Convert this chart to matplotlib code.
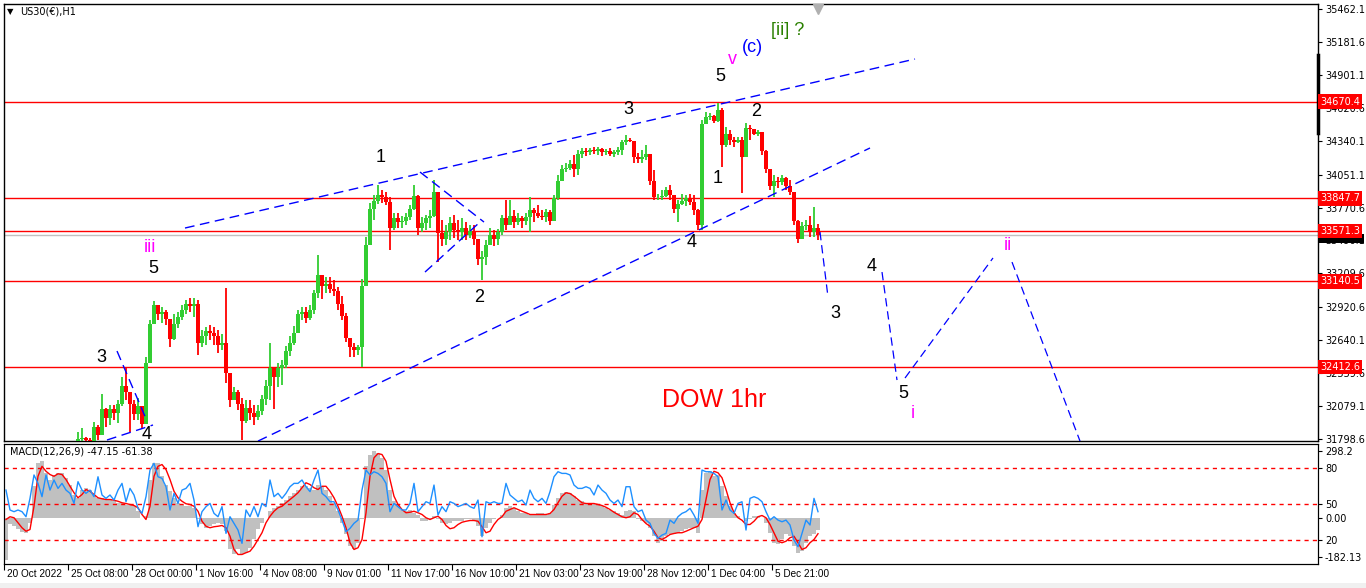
import numpy as np
import matplotlib
matplotlib.use('Agg')
import matplotlib.pyplot as plt
import matplotlib.transforms as mtransforms
from matplotlib.patches import Rectangle

plt.rcParams['lines.scale_dashes'] = False
plt.rcParams['font.family'] = ['DejaVu Sans']

# ---------------- data (4-hour aggregated bars) ----------------
close = [31380, 31400, 31360, 31350, 31380, 31360, 31460, 31560, 31650, 31620,
         31640, 31600, 31650, 31680, 31610, 31640, 31670, 31720, 31800, 31810,
         31790, 31780, 31900, 31830, 32050, 31980, 32050, 32020, 32100, 32250,
         32200, 32100, 32010, 32080, 31930, 32450, 32780, 32940, 32860, 32880,
         32820, 32650, 32780, 32840, 32900, 32950, 32930, 32950, 32620, 32680,
         32720, 32700, 32680, 32600, 32620, 32360, 32130, 32200, 32100, 31950,
         32060, 32020, 31990, 32040, 32140, 32250, 32400, 32330, 32400, 32430,
         32550, 32620, 32700, 32860, 32880, 32830, 32900, 33040, 33200, 33100,
         33120, 33080, 33060, 32950, 32850, 32660, 32580, 32560, 32580, 33100,
         33450, 33760, 33830, 33880, 33860, 33820, 33600, 33680, 33650, 33660,
         33690, 33760, 33870, 33600, 33640, 33680, 33700, 33900, 33550, 33500,
         33560, 33640, 33580, 33560, 33600, 33540, 33570, 33500, 33330, 33350,
         33450, 33540, 33500, 33560, 33680, 33620, 33700, 33650, 33680, 33660,
         33690, 33750, 33720, 33700, 33690, 33730, 33660, 33850, 34000, 34100,
         34110, 34140, 34100, 34230, 34250, 34240, 34260, 34250, 34270, 34240,
         34250, 34230, 34240, 34260, 34330, 34350, 34340, 34200, 34180, 34200,
         34230, 34000, 33860, 33860, 33870, 33920, 33880, 33760, 33800, 33830,
         33850, 33820, 33750, 33620, 34480, 34540, 34550, 34510, 34600, 34300,
         34400, 34350, 34330, 34350, 34200, 34450, 34440, 34400, 34410, 34250,
         34100, 33950, 34000, 33990, 34020, 33950, 33900, 33660, 33500, 33610,
         33620, 33560, 33600, 33535]
high = [31420, 31450, 31430, 31400, 31420, 31440, 31480, 31580, 31680, 31700,
        31690, 31700, 31680, 31720, 31700, 31680, 31700, 31740, 31860, 31892,
        31815, 31806, 31943, 31920, 32182, 32063, 32089, 32089, 32131, 32330,
        32412, 32190, 32131, 32150, 32000, 32497, 32810, 32974, 32925, 32925,
        32900, 32812, 32860, 32880, 32940, 32983, 33000, 33000, 32980, 32727,
        32752, 32770, 32752, 32727, 32690, 33085, 32260, 32240, 32216, 32150,
        32131, 32131, 32090, 32090, 32170, 32300, 32620, 32400, 32450, 32470,
        32590, 32680, 32760, 32898, 32920, 32920, 32940, 33068, 33366, 33180,
        33180, 33180, 33150, 33090, 33020, 32870, 32620, 32620, 32600, 33160,
        33520, 33810, 33880, 33962, 33920, 33900, 33860, 33720, 33720, 33700,
        33720, 33790, 33962, 33880, 33690, 33710, 33750, 34005, 33900, 33664,
        33620, 33690, 33710, 33664, 33680, 33650, 33620, 33620, 33500, 33400,
        33494, 33600, 33579, 33590, 33710, 33835, 33835, 33750, 33720, 33700,
        33720, 33860, 33770, 33790, 33750, 33760, 33750, 33880, 34050, 34130,
        34150, 34175, 34220, 34260, 34280, 34280, 34280, 34290, 34290, 34280,
        34270, 34280, 34260, 34290, 34350, 34389, 34360, 34320, 34235, 34260,
        34300, 34220, 34090, 33890, 33920, 33945, 33960, 33860, 33835, 33890,
        33880, 33890, 33880, 33760, 34516, 34585, 34580, 34560, 34661, 34620,
        34460, 34430, 34370, 34370, 34370, 34490, 34475, 34420, 34430, 34370,
        34260, 34090, 34050, 34030, 34050, 34030, 34005, 33835, 33664, 33650,
        33664, 33700, 33775, 33630]
low = [31300, 31340, 31330, 31300, 31320, 31340, 31350, 31440, 31540, 31580,
       31560, 31580, 31560, 31600, 31580, 31560, 31600, 31640, 31720, 31760,
       31720, 31720, 31760, 31790, 31875, 31900, 31920, 31960, 31935, 32080,
       32130, 31860, 31960, 31960, 31880, 31935, 32490, 32780, 32810, 32790,
       32770, 32582, 32640, 32745, 32810, 32860, 32880, 32840, 32514, 32582,
       32600, 32642, 32600, 32530, 32557, 32280, 32070, 32130, 32046, 31790,
       31935, 31960, 31918, 31960, 32000, 32090, 32131, 32050, 32240, 32260,
       32400, 32510, 32600, 32790, 32810, 32790, 32810, 32860, 33000, 32990,
       33040, 33040, 33020, 32898, 32812, 32625, 32500, 32500, 32514, 32412,
       33290, 33450, 33664, 33800, 33810, 33790, 33409, 33579, 33600, 33600,
       33620, 33664, 33750, 33537, 33560, 33580, 33600, 33690, 33306, 33440,
       33450, 33494, 33510, 33494, 33494, 33494, 33510, 33450, 33280, 33153,
       33280, 33450, 33440, 33450, 33537, 33579, 33620, 33600, 33620, 33600,
       33620, 33560, 33650, 33680, 33664, 33650, 33620, 33700, 33835, 34050,
       34070, 34090, 34030, 34050, 34190, 34210, 34220, 34230, 34220, 34210,
       34220, 34210, 34200, 34220, 34220, 34300, 34330, 34150, 34150, 34150,
       34175, 33960, 33835, 33835, 33835, 33860, 33835, 33724, 33650, 33790,
       33780, 33790, 33710, 33579, 33580, 34500, 34520, 34490, 34500, 34116,
       34290, 34300, 34290, 34320, 33895, 34260, 34350, 34390, 34380, 34220,
       34065, 33920, 33860, 33940, 33960, 33920, 33880, 33620, 33470, 33540,
       33579, 33520, 33520, 33494]
first_open = 31360

macd_main = [-165, -24, -31, -44, -55, -60, -17, 129, 223, 229,
             183, 156, 176, 183, 183, 163, 136, 96, 83, 116,
             123, 116, 96, 83, 83, 76, 76, 69, 63, 63,
             56, 56, 49, 29, 3, 9, 156, 223, 223, 169,
             136, 109, 83, 63, 56, 49, 49, 43, -4, -24,
             -37, -31, -24, -17, -24, -51, -124, -144, -124, -144,
             -137, -117, -84, -44, -17, 3, 29, 43, 49, 63,
             76, 89, 103, 116, 129, 129, 123, 116, 136, 129,
             116, 89, 63, 29, -17, -64, -111, -124, -97, -4,
             209, 256, 269, 263, 243, 196, 116, 69, 56, 36,
             29, 36, 23, 16, -11, -11, -4, 9, -4, -17,
             -24, -17, -11, -11, -11, -4, -4, -11, -31, -71,
             -37, -17, -4, 0, 16, 43, 49, 43, 29, 23,
             23, 16, 16, 23, 23, 16, 23, 56, 83, 103,
             107, 103, 89, 76, 69, 63, 63, 60, 56, 49,
             43, 36, 29, 23, 16, 29, 36, 29, -4, -11,
             -17, -37, -71, -97, -91, -71, -64, -64, -57, -51,
             -44, -37, -37, -57, 116, 183, 189, 169, 176, 129,
             89, 49, 23, 9, 3, -11, -4, 9, 12, 3,
             -17, -57, -97, -104, -84, -64, -71, -111, -137, -131,
             -97, -71, -64, -47]
macd_signal = [-4, 7, 3, -17, -37, -51, -44, 49, 169, 209,
               189, 176, 169, 179, 176, 156, 129, 103, 83, 96,
               116, 109, 96, 83, 79, 76, 76, 73, 69, 63,
               60, 56, 52, 43, 16, -4, 49, 169, 209, 216,
               196, 156, 109, 83, 69, 59, 56, 49, 29, -11,
               -31, -37, -33, -31, -28, -37, -71, -124, -144, -144,
               -137, -131, -111, -84, -57, -17, 9, 29, 43, 49,
               63, 76, 89, 103, 123, 143, 136, 123, 116, 129,
               129, 109, 83, 49, 9, -37, -97, -124, -117, -84,
               23, 169, 243, 260, 256, 229, 156, 89, 56, 36,
               23, 25, 29, 23, 16, 3, -4, 3, 9, -4,
               -28, -41, -37, -24, -15, -11, -8, -8, -11, -33,
               -57, -51, -24, -4, 7, 29, 36, 43, 36, 29,
               23, 16, 16, 16, 16, 16, 20, 36, 63, 89,
               103, 100, 89, 76, 63, 60, 60, 60, 56, 52,
               45, 36, 25, 16, 7, 3, 7, 23, 16, -4,
               -20, -31, -51, -77, -84, -75, -64, -60, -57, -57,
               -51, -44, -37, -31, -4, 76, 156, 189, 183, 163,
               116, 63, 23, 3, -7, -24, -24, -11, 7, 12,
               3, -24, -57, -91, -97, -91, -77, -71, -97, -124,
               -117, -97, -84, -61]
osc_line = [61.6, 45, 43.6, 45, 43.6, 39.4, 54.7, 74.2, 67.2, 56.1,
            74.2, 61.6, 70, 63, 67.2, 61.6, 58.9, 50.5, 68.6, 61.6,
            58.9, 61.6, 56.1, 72.7, 57.5, 54.7, 57.5, 53.3, 61.6, 67.2,
            51.9, 63, 57.5, 46.4, 42.2, 56.1, 78.3, 83.9, 72.7, 71.4,
            64.4, 45, 58.9, 50.5, 61.6, 63, 67.2, 53.3, 31.1, 43.6,
            47.8, 50.5, 42.2, 39.4, 47.8, 25.5, 39.4, 33.9, 28.3, 17.2,
            45, 39.4, 47.8, 39.4, 50.5, 47.8, 70, 56.1, 58.9, 54.7,
            58.9, 64.4, 67.2, 67.2, 70, 64.4, 60.3, 70, 78.3, 58.9,
            56.1, 51.9, 51.9, 45, 36.6, 26.9, 29.7, 33.9, 36.6, 61.6,
            78.3, 74.2, 76.9, 75.5, 72.7, 67.2, 43.6, 50.5, 47.8, 45,
            45, 50.5, 67.2, 43.6, 47.8, 51.9, 50.5, 65.8, 40.8, 47.8,
            43.6, 51.9, 50.5, 47.8, 49.1, 50.5, 47.8, 46.4, 53.3, 22.7,
            51.9, 50.5, 51.9, 50.5, 50.5, 67.2, 57.5, 54.7, 51.9, 53.3,
            49.1, 61.6, 54.7, 51.9, 54.7, 50.5, 60.3, 72.7, 76.9, 75.5,
            75.5, 74.2, 65.8, 63, 63, 64.4, 63, 57.5, 65.8, 61.6,
            58.9, 53.3, 50.5, 53.3, 47.8, 64.4, 64.4, 47.8, 43.6, 45,
            36.6, 33.9, 25.5, 21.4, 24.1, 25.5, 36.6, 33.9, 39.4, 42.2,
            43.6, 46.4, 40.8, 33.9, 78.3, 76.9, 76.9, 75.5, 72.7, 45,
            53.3, 45, 42.2, 50.5, 51.9, 28.3, 54.7, 56.1, 54.7, 51.9,
            43.6, 36.6, 39.4, 36.6, 35.2, 36.6, 32.5, 20, 14.4, 25.5,
            36.6, 32.5, 54.7, 43.6]

price_ticks = [35462.1, 35181.6, 34901.1, 34620.6, 34340.1, 34051.1, 33770.6,
               33490.1, 33209.6, 32920.6, 32640.1, 32359.6, 32079.1, 31798.6]
red_levels = [34670.4, 33847.7, 33571.3, 33140.5, 32412.6]
bid_price = 33540.0
date_labels = ["20 Oct 2022", "25 Oct 08:00", "28 Oct 00:00", "1 Nov 16:00",
               "4 Nov 08:00", "9 Nov 01:00", "11 Nov 17:00", "16 Nov 10:00",
               "21 Nov 03:00", "23 Nov 19:00", "28 Nov 12:00", "1 Dec 04:00",
               "5 Dec 21:00"]
date_label_bars = [0, 16, 32, 48, 64, 80, 96, 112, 128, 144, 160, 176, 192]
osc_levels = [80, 50, 20]

# annotations (bar index, price)
wave_labels = [("3", 24.25, 32489, 'black'), ("4", 35.75, 31833, 'black'),
               ("iii", 36.5, 33434, 'magenta'), ("5", 37.25, 33247, 'black'),
               ("1", 94.25, 34201, 'black'), ("2", 118.75, 33008, 'black'),
               ("3", 156.0, 34602, 'black'), ("4", 172.0, 33477, 'black'),
               ("5", 179.0, 34891, 'black'), ("v", 182.0, 35028, 'magenta'),
               ("(c)", 187.0, 35138, 'blue'), ("[ii] ?", 196.0, 35283, '#2a8000'),
               ("1", 178.5, 34022, 'black'), ("2", 188.0, 34593, 'black'),
               ("3", 207.75, 32872, 'black'), ("4", 217.0, 33272, 'black'),
               ("5", 224.75, 32190, 'black'), ("i", 227.25, 32020, 'magenta'),
               ("ii", 251.0, 33443, 'magenta')]
channel_lines = [((45.25, 33596), (227.75, 35036)),
                 ((63.5, 31781), (216.5, 34278)),
                 ((28.25, 32548), (35.75, 31952)),
                 ((25.75, 31790), (37.25, 31918)),
                 ((104.0, 34073), (120.0, 33647)),
                 ((105.25, 33221), (119.0, 33647))]
projection_lines = [((204.0, 33562), (206.0, 33008)),
                    ((219.5, 33221), (223.25, 32301)),
                    ((225.25, 32318), (247.25, 33341)),
                    ((252.0, 33306), (269.0, 31781))]

# ---------------- layout ----------------
W, H = 1366, 588
fig = plt.figure(figsize=(W / 100, H / 100), dpi=100, facecolor='white')
fig.patches.append(Rectangle((0, 0), 1, 5 / H, transform=fig.transFigure,
                             fc='#f0f0f0', ec='none', zorder=-5))


def fx(px):
    return px / W


def fy(py):
    return 1 - py / H


L, R = 4, 1318
ax = fig.add_axes([fx(L), fy(441), (R - L) / W, (441 - 4) / H])
axm = fig.add_axes([fx(L), fy(564), (R - L) / W, (564 - 444) / H])

xmax = (R - L) / 4.0
GREEN = '#32CD32'
RED = '#FF0000'

# ---------------- price panel ----------------
c = np.array(close, float)
h = np.array(high, float)
lo = np.array(low, float)
o = np.r_[first_open, c[:-1]]
h = np.maximum(h, np.maximum(o, c))
lo = np.minimum(lo, np.minimum(o, c))
xs = np.arange(len(c)) + 0.5
cols = np.where(c >= o, GREEN, RED)
ax.vlines(xs, lo, h, colors=cols, lw=1.3, zorder=3)
ax.bar(xs, np.abs(c - o), bottom=np.minimum(o, c), width=0.85, color=cols,
       linewidth=0, zorder=3)

ax.set_xlim(0, xmax)
ax.set_ylim(31781.6, 35504.7)

for lv in red_levels:
    ax.axhline(lv, color=RED, lw=1, zorder=2)
ax.axhline(bid_price, color='#c0c0c0', lw=1, zorder=1)

for (x1, y1), (x2, y2) in channel_lines:
    ax.plot([x1, x2], [y1, y2], color='blue', lw=1, ls=(0, (7, 4)), zorder=4)
for (x1, y1), (x2, y2) in projection_lines:
    ax.plot([x1, x2], [y1, y2], color='blue', lw=0.9, ls=(0, (6, 3.5)), zorder=4)

for s, xv, pv, col in wave_labels:
    ax.text(xv, pv, s, color=col, fontsize=13, ha='center', va='center',
            family=['Liberation Sans', 'DejaVu Sans'], zorder=6)
ax.text(177.5, 32131, 'DOW 1hr', color=RED, fontsize=18, ha='center', va='center',
        family=['Liberation Sans', 'DejaVu Sans'], zorder=6)

ax.yaxis.tick_right()
ax.set_yticks(price_ticks)
ax.set_yticklabels([f'{v:.1f}' for v in price_ticks], fontsize=7)
ax.tick_params(axis='y', direction='out', length=3, pad=2, width=0.8)
ax.set_xticks([])
for sp in ax.spines.values():
    sp.set_linewidth(1)

trans = mtransforms.blended_transform_factory(ax.transAxes, ax.transData)
# black current-price marker on the axis (mostly hidden by the red label)
ax.add_patch(Rectangle((1.001, 33470), 0.034, 75, transform=trans, fc='black',
                       ec='none', clip_on=False, zorder=9))
for lv in red_levels:
    ax.text(1.0015, lv, f'{lv:.1f}', transform=trans, ha='left', va='center',
            fontsize=7, color='white',
            bbox=dict(boxstyle='square,pad=0.25', fc=RED, ec='none'),
            zorder=10, clip_on=False)
ax.plot([1.0, 1.0], [35070, 34405], transform=trans, color='black', lw=2.5,
        clip_on=False, zorder=8)
ax.plot([203.5], [0.988], marker='v', color='#b0b0b0', markersize=7,
        transform=mtransforms.blended_transform_factory(ax.transData, ax.transAxes),
        clip_on=False, zorder=7)

fig.text(fx(20), fy(12), 'US30(€),H1', fontsize=7, va='center', ha='left')
fig.text(fx(7), fy(12), '▼', fontsize=6, va='center', ha='left')

# ---------------- MACD panel ----------------
axm.bar(xs, macd_main, width=1.0, color='#C0C0C0', linewidth=0, zorder=1)
axm.plot(xs, macd_signal, color=RED, lw=1, zorder=3)
axm.set_xlim(0, xmax)
axm.set_ylim(-182.13, 298.2)
axb = axm.twinx()
axb.set_ylim(0, 100)
for lv in osc_levels:
    axb.axhline(lv, color=RED, lw=1, ls=(0, (3, 3)), zorder=1)
axb.plot(xs, osc_line, color='#1E90FF', lw=1, zorder=2)
axm.set_zorder(1)
axb.set_zorder(2)
axb.patch.set_visible(False)

axm.yaxis.tick_right()
axm.set_yticks([272, 0, -156])
axm.set_yticklabels(['298.2', '0.00', '-182.13'], fontsize=7)
axm.tick_params(axis='y', direction='out', length=3, pad=2, width=0.8)
axb.set_yticks(osc_levels)
axb.set_yticklabels([str(v) for v in osc_levels], fontsize=7)
axb.tick_params(axis='y', direction='out', length=3, pad=2, width=0.8)

axm.set_xticks(date_label_bars)
axm.set_xticklabels([])
axm.tick_params(axis='x', direction='out', length=4, width=0.8)
for lab, pos in zip(date_labels, date_label_bars):
    axm.annotate(lab, xy=(pos, 0), xycoords=('data', 'axes fraction'),
                 xytext=(3, -5), textcoords='offset pixels', ha='left', va='top',
                 fontsize=7.2, family=['Liberation Sans', 'DejaVu Sans'])

fig.text(fx(10), fy(452), 'MACD(12,26,9) -47.15 -61.38', fontsize=7,
         va='center', ha='left')

fig.savefig('out.png', dpi=100, facecolor='white')
